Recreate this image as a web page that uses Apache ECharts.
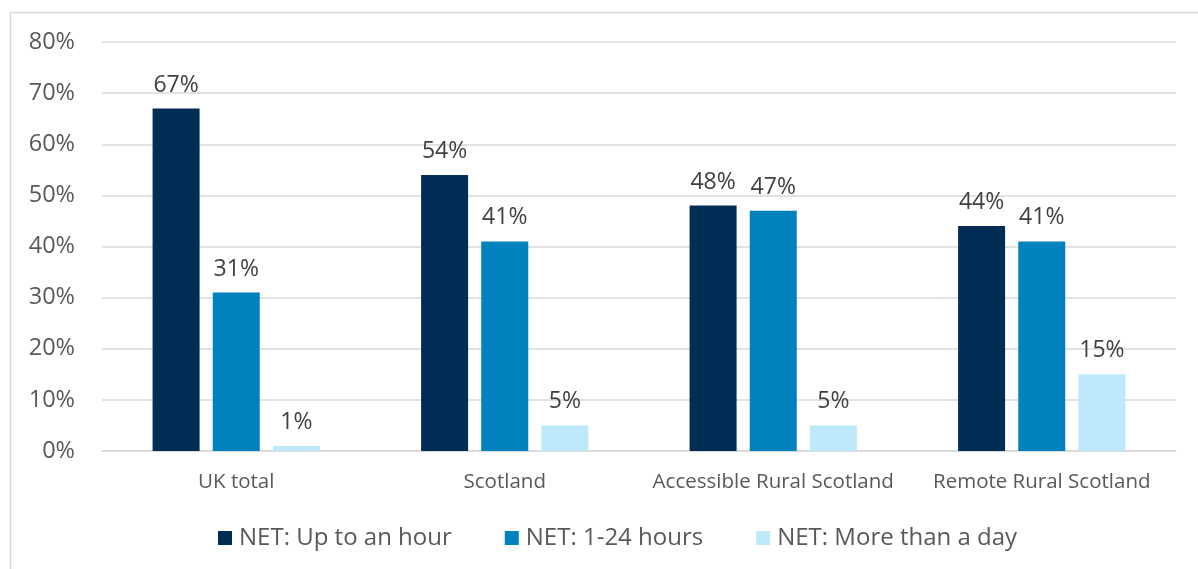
<!DOCTYPE html>
<html>
<head>
<meta charset="utf-8">
<script src="https://cdn.jsdelivr.net/npm/echarts@6/dist/echarts.min.js"></script>
<style>
html,body{margin:0;padding:0;background:#fff;}
#chart{width:1198px;height:569px;}
</style>
</head>
<body>
<div id="chart"></div>
<script>
const categories = ['UK total', 'Scotland', 'Accessible Rural Scotland', 'Remote Rural Scotland'];
const seriesNames = ['NET: Up to an hour', 'NET: 1-24 hours', 'NET: More than a day'];
const upToHour = [67, 54, 48, 44];
const oneTo24 = [31, 41, 47, 41];
const moreThanDay = [1, 5, 5, 15];
const yTicks = [0, 10, 20, 30, 40, 50, 60, 70, 80];

const colors = ['#002d54', '#0082be', '#bde9fa'];
const axisTextColor = '#595959';
const labelColor = '#404040';
const font = 'Open Sans';

const chart = echarts.init(document.getElementById('chart'));

function barSeries(name, data, color) {
  return {
    name: name,
    type: 'bar',
    data: data,
    barWidth: 47,
    barGap: '28%',
    itemStyle: { color: color },
    label: {
      show: true,
      position: 'top',
      distance: 12,
      formatter: p => p.value + '%',
      color: labelColor,
      fontFamily: font,
      fontSize: 23
    }
  };
}

chart.setOption({
  animation: false,
  textStyle: { fontFamily: font },
  graphic: [{
    type: 'rect',
    shape: { x: 10.5, y: 12.5, width: 1220, height: 620 },
    style: { fill: 'none', stroke: '#d9d9d9', lineWidth: 1.5 },
    silent: true
  }],
  grid: { left: 102, right: 22, top: 42, bottom: 118, containLabel: false },
  legend: {
    bottom: 14,
    left: 213,
    itemWidth: 14,
    itemHeight: 14,
    itemGap: 53,
    icon: 'rect',
    textStyle: { color: axisTextColor, fontFamily: font, fontSize: 24, padding: [0, 0, 0, 2] },
    data: seriesNames
  },
  xAxis: {
    type: 'category',
    data: categories,
    axisTick: { show: false },
    axisLine: { lineStyle: { color: '#d9d9d9', width: 1.5 } },
    axisLabel: { color: axisTextColor, fontFamily: font, fontSize: 20.5, margin: 21, interval: 0 }
  },
  yAxis: {
    type: 'value',
    min: yTicks[0],
    max: yTicks[yTicks.length - 1],
    interval: 10,
    axisLine: { show: false },
    axisTick: { show: false },
    splitLine: { lineStyle: { color: '#d9d9d9', width: 1.5 } },
    axisLabel: { color: axisTextColor, fontFamily: font, fontSize: 23.5, margin: 27, formatter: v => v + '%' }
  },
  series: [
    barSeries(seriesNames[0], upToHour, colors[0]),
    barSeries(seriesNames[1], oneTo24, colors[1]),
    barSeries(seriesNames[2], moreThanDay, colors[2])
  ]
});
</script>
</body>
</html>
